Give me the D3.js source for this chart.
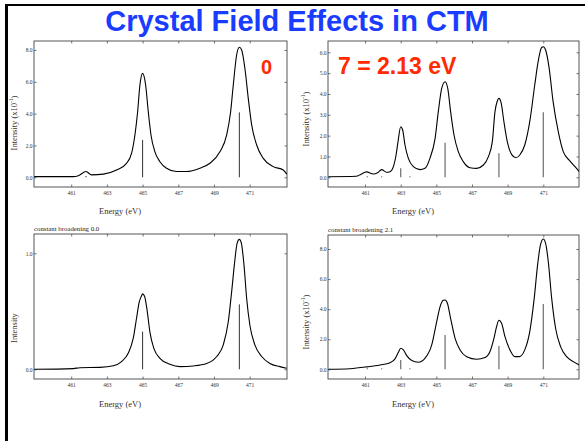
<!DOCTYPE html>
<html><head><meta charset="utf-8">
<script src="https://cdn.jsdelivr.net/npm/d3@7"></script>
<style>html,body{margin:0;padding:0;background:#fff;}svg{display:block;}</style>
</head><body>
<svg id="c" width="585" height="441"></svg>
<script>
// ---------- DATA ----------
const titleText = "Crystal Field Effects in CTM";
const xTicks = [461, 463, 465, 467, 469, 471];

// Panel A (top-left): crystal field 0
const aE = [458.93,461.12,461.40,461.83,462.14,462.80,463.54,464.10,464.38,464.57,464.72,464.85,465.0,465.17,465.32,465.47,465.69,465.97,466.34,466.90,467.46,468.21,468.77,469.33,469.71,469.93,470.08,470.27,470.42,470.55,470.73,470.92,471.11,471.39,471.76,472.32,472.88,473.08];
const aI = [0.04,0.04,0.10,0.36,0.15,0.20,0.46,0.88,1.5,2.66,4.1,5.8,6.53,5.8,4.1,2.66,1.6,0.98,0.57,0.36,0.36,0.57,0.88,1.6,2.66,4.1,5.8,7.7,8.17,8.0,6.85,4.96,3.29,2.03,1.19,0.67,0.46,0.19];
const aStickE = [461.83, 465.0, 470.42];
const aStickH = [0.08, 2.35, 4.08];
const aYTicks = [0, 2, 4, 6, 8];

// Panel B (top-right): crystal field 2.13 eV
const bE = [458.94,460.50,460.76,461.08,461.47,461.70,461.93,462.20,462.40,462.59,462.74,462.85,463.0,463.11,463.24,463.43,463.71,464.08,464.36,464.64,464.93,465.11,465.30,465.49,465.64,465.80,465.99,466.23,466.51,466.89,467.26,467.64,467.92,468.14,468.29,468.42,468.51,468.64,468.79,468.98,469.22,469.46,469.68,469.96,470.24,470.52,470.71,470.90,471.0,471.13,471.33,471.55,471.84,472.12,472.50,472.78,473.02];
const bI = [0.03,0.05,0.14,0.26,0.16,0.22,0.37,0.24,0.27,0.51,1.07,1.71,2.43,2.27,1.55,0.91,0.51,0.37,0.43,0.91,1.87,3.15,4.27,4.59,4.27,3.15,2.03,1.23,0.75,0.46,0.43,0.59,0.99,1.71,3.15,3.66,3.79,3.55,2.67,1.71,1.10,0.94,1.07,1.55,2.67,4.43,5.55,6.22,6.27,6.11,5.23,3.63,2.19,1.23,0.78,0.51,0.27];
const bStickE = [461.13, 461.93, 463.0, 463.52, 465.49, 468.51, 471.0];
const bStickH = [0.05, 0.05, 0.43, 0.05, 1.66, 1.15, 3.12];
const bYTicks = [0, 1, 2, 3, 4, 5, 6];

// Panel C (bottom-left): constant broadening 0.0
const cE = [458.93,461.12,461.49,462.61,463.36,463.82,464.20,464.48,464.66,464.81,464.93,465.0,465.11,465.26,465.41,465.63,465.97,466.53,467.09,467.84,468.59,469.15,469.52,469.80,469.99,470.14,470.30,470.42,470.53,470.68,470.83,471.01,471.29,471.67,472.13,472.69,473.07];
const cI = [0.0,0.006,0.014,0.017,0.03,0.066,0.14,0.27,0.44,0.58,0.63,0.65,0.63,0.50,0.32,0.18,0.095,0.043,0.023,0.029,0.05,0.11,0.21,0.41,0.67,0.90,1.09,1.12,1.09,0.90,0.61,0.38,0.21,0.11,0.05,0.023,0.009];
const cStickE = [465.0, 470.42];
const cStickH = [0.325, 0.56];
const cYTicks = [0, 1];

// Panel D (bottom-right): constant broadening 2.1
const dE = [458.94,460.16,461.10,461.84,462.40,462.68,462.87,463.0,463.15,463.34,463.62,463.99,464.36,464.74,465.02,465.21,465.39,465.49,465.62,465.80,466.05,466.33,466.70,467.26,467.73,468.01,468.23,468.38,468.51,468.66,468.85,469.13,469.41,469.65,469.96,470.24,470.49,470.68,470.84,471.0,471.13,471.28,471.47,471.69,471.97,472.31,472.68,473.02];
const dI = [0,0.04,0.16,0.29,0.44,0.69,1.13,1.40,1.29,0.91,0.58,0.47,0.73,1.62,3.17,4.17,4.59,4.61,4.39,3.39,2.06,1.29,0.84,0.67,0.78,1.18,2.06,2.84,3.26,3.06,2.17,1.29,0.84,0.84,1.29,2.51,4.72,6.94,8.27,8.67,8.38,7.16,4.72,2.73,1.51,0.84,0.51,0.29];
const dStickE = [461.13, 461.93, 463.0, 463.52, 465.49, 468.51, 471.0];
const dStickH = [0.07, 0.07, 0.62, 0.07, 2.28, 1.55, 4.35];
const dYTicks = [0, 2, 4, 6, 8];

// ---------- DRAW ----------
const svg = d3.select("#c");
const serif = "'Liberation Serif','DejaVu Serif',serif";

// slide frame
svg.append("rect").attr("x",5).attr("y",4).attr("width",3).attr("height",441).attr("fill","#000");
svg.append("rect").attr("x",5).attr("y",4).attr("width",585).attr("height",2).attr("fill","#000");

svg.append("text").attr("x",297).attr("y",31).attr("text-anchor","middle")
  .attr("font-family","'Liberation Sans',Arial,sans-serif").attr("font-weight","bold")
  .attr("font-size",29).attr("fill","#1a3cff").text(titleText);

const panels = [
  {E:aE,I:aI,sE:aStickE,sH:aStickH,yt:aYTicks,box:[34,287,41,187],xd:[461,471],xr:[71.2,249.7],yd:[0,8],yr:[177.3,50],
   ylab:"Intensity (x10", sup:"-1", ylx:14, yly:123, xlx:120, xly:214, title:null},
  {E:bE,I:bI,sE:bStickE,sH:bStickH,yt:bYTicks,box:[328,579,41,187],xd:[463,471],xr:[400.7,543.3],yd:[0,6],yr:[177.3,52.3],
   ylab:"Intensity (x10", sup:"-1", ylx:306, yly:119, xlx:413, xly:214, title:null},
  {E:cE,I:cI,sE:cStickE,sH:cStickH,yt:cYTicks,box:[34,287,234,379],xd:[461,471],xr:[71.2,249.7],yd:[0,1],yr:[369.3,253.3],
   ylab:"Intensity", sup:null, ylx:14, yly:328, xlx:120, xly:407, title:"constant broadening 0.0"},
  {E:dE,I:dI,sE:dStickE,sH:dStickH,yt:dYTicks,box:[328,579,235,379],xd:[463,471],xr:[400.7,543.3],yd:[0,8],yr:[369.3,249],
   ylab:"Intensity (x10", sup:"-1", ylx:306, yly:322, xlx:413, xly:407, title:"constant broadening 2.1"}
];

panels.forEach((p,i)=>{
  const g = svg.append("g");
  const [x0,x1,y0,y1] = p.box;
  const x = d3.scaleLinear().domain(p.xd).range(p.xr);
  const y = d3.scaleLinear().domain(p.yd).range(p.yr);
  const clipId = "clip"+i;
  g.append("clipPath").attr("id",clipId).append("rect").attr("x",x0).attr("y",y0).attr("width",x1-x0).attr("height",y1-y0);

  const fmt = d3.format(".1f");
  const axB = g.append("g").attr("transform",`translate(0,${y1})`).call(d3.axisBottom(x).tickValues(xTicks).tickSize(-2.5).tickPadding(4).tickFormat(d3.format("d")));
  const axT = g.append("g").attr("transform",`translate(0,${y0})`).call(d3.axisTop(x).tickValues(xTicks).tickSize(-2.5).tickFormat(""));
  const axL = g.append("g").attr("transform",`translate(${x0},0)`).call(d3.axisLeft(y).tickValues(p.yt).tickSize(-2.5).tickPadding(1.5).tickFormat(fmt));
  const axR = g.append("g").attr("transform",`translate(${x1},0)`).call(d3.axisRight(y).tickValues(p.yt).tickSize(-2.5).tickFormat(""));
  [axB,axT,axL,axR].forEach(a=>{
    a.select(".domain").remove();
    a.selectAll("line").attr("stroke","#555").attr("stroke-width",0.8);
    a.selectAll("text").attr("font-family",serif).attr("font-size",5.5).attr("fill","#333");
  });
  g.append("rect").attr("x",x0).attr("y",y0).attr("width",x1-x0).attr("height",y1-y0)
    .attr("fill","none").attr("stroke","#444").attr("stroke-width",0.9);

  g.selectAll(".stick").data(p.sE.map((e,k)=>[e,p.sH[k]])).join("line")
    .attr("x1",d=>x(d[0])).attr("x2",d=>x(d[0])).attr("y1",y(0)).attr("y2",d=>y(d[1]))
    .attr("stroke", i%2? "#777":"#333").attr("stroke-width", i%2?1.3:1);

  const line = d3.line().x(d=>x(d[0])).y(d=>y(d[1])).curve(d3.curveMonotoneX);
  g.append("path").attr("clip-path",`url(#${clipId})`).attr("d",line(p.E.map((e,k)=>[e,p.I[k]])))
    .attr("fill","none").attr("stroke","#000").attr("stroke-width",1.1);

  g.append("text").attr("x",p.xlx).attr("y",p.xly).attr("text-anchor","middle")
    .attr("font-family",serif).attr("font-size",8.5).attr("fill","#333").text("Energy (eV)");
  const yl = g.append("text").attr("transform",`translate(${p.ylx},${p.yly}) rotate(-90)`).attr("text-anchor","middle")
    .attr("dominant-baseline","central").attr("font-family",serif).attr("font-size",8.5).attr("fill","#333");
  yl.append("tspan").text(p.ylab);
  if(p.sup){ yl.append("tspan").attr("dy",-3).attr("font-size",5.5).text(p.sup); yl.append("tspan").attr("dy",3).text(")"); }
  if(p.title){
    g.append("text").attr("x",x0).attr("y",y0-3).attr("font-family",serif).attr("font-size",6.8).attr("fill","#222").text(p.title);
  }
});

svg.append("text").attr("x",261).attr("y",74.3).attr("font-family","'Liberation Sans',Arial,sans-serif")
  .attr("font-weight","bold").attr("font-size",20).attr("fill","#ff2a00").text("0");
svg.append("text").attr("x",338).attr("y",74.3).attr("font-family","'Liberation Sans',Arial,sans-serif")
  .attr("font-weight","bold").attr("font-size",23).attr("fill","#ff2a00").text("7 = 2.13 eV");
</script>
</body></html>
